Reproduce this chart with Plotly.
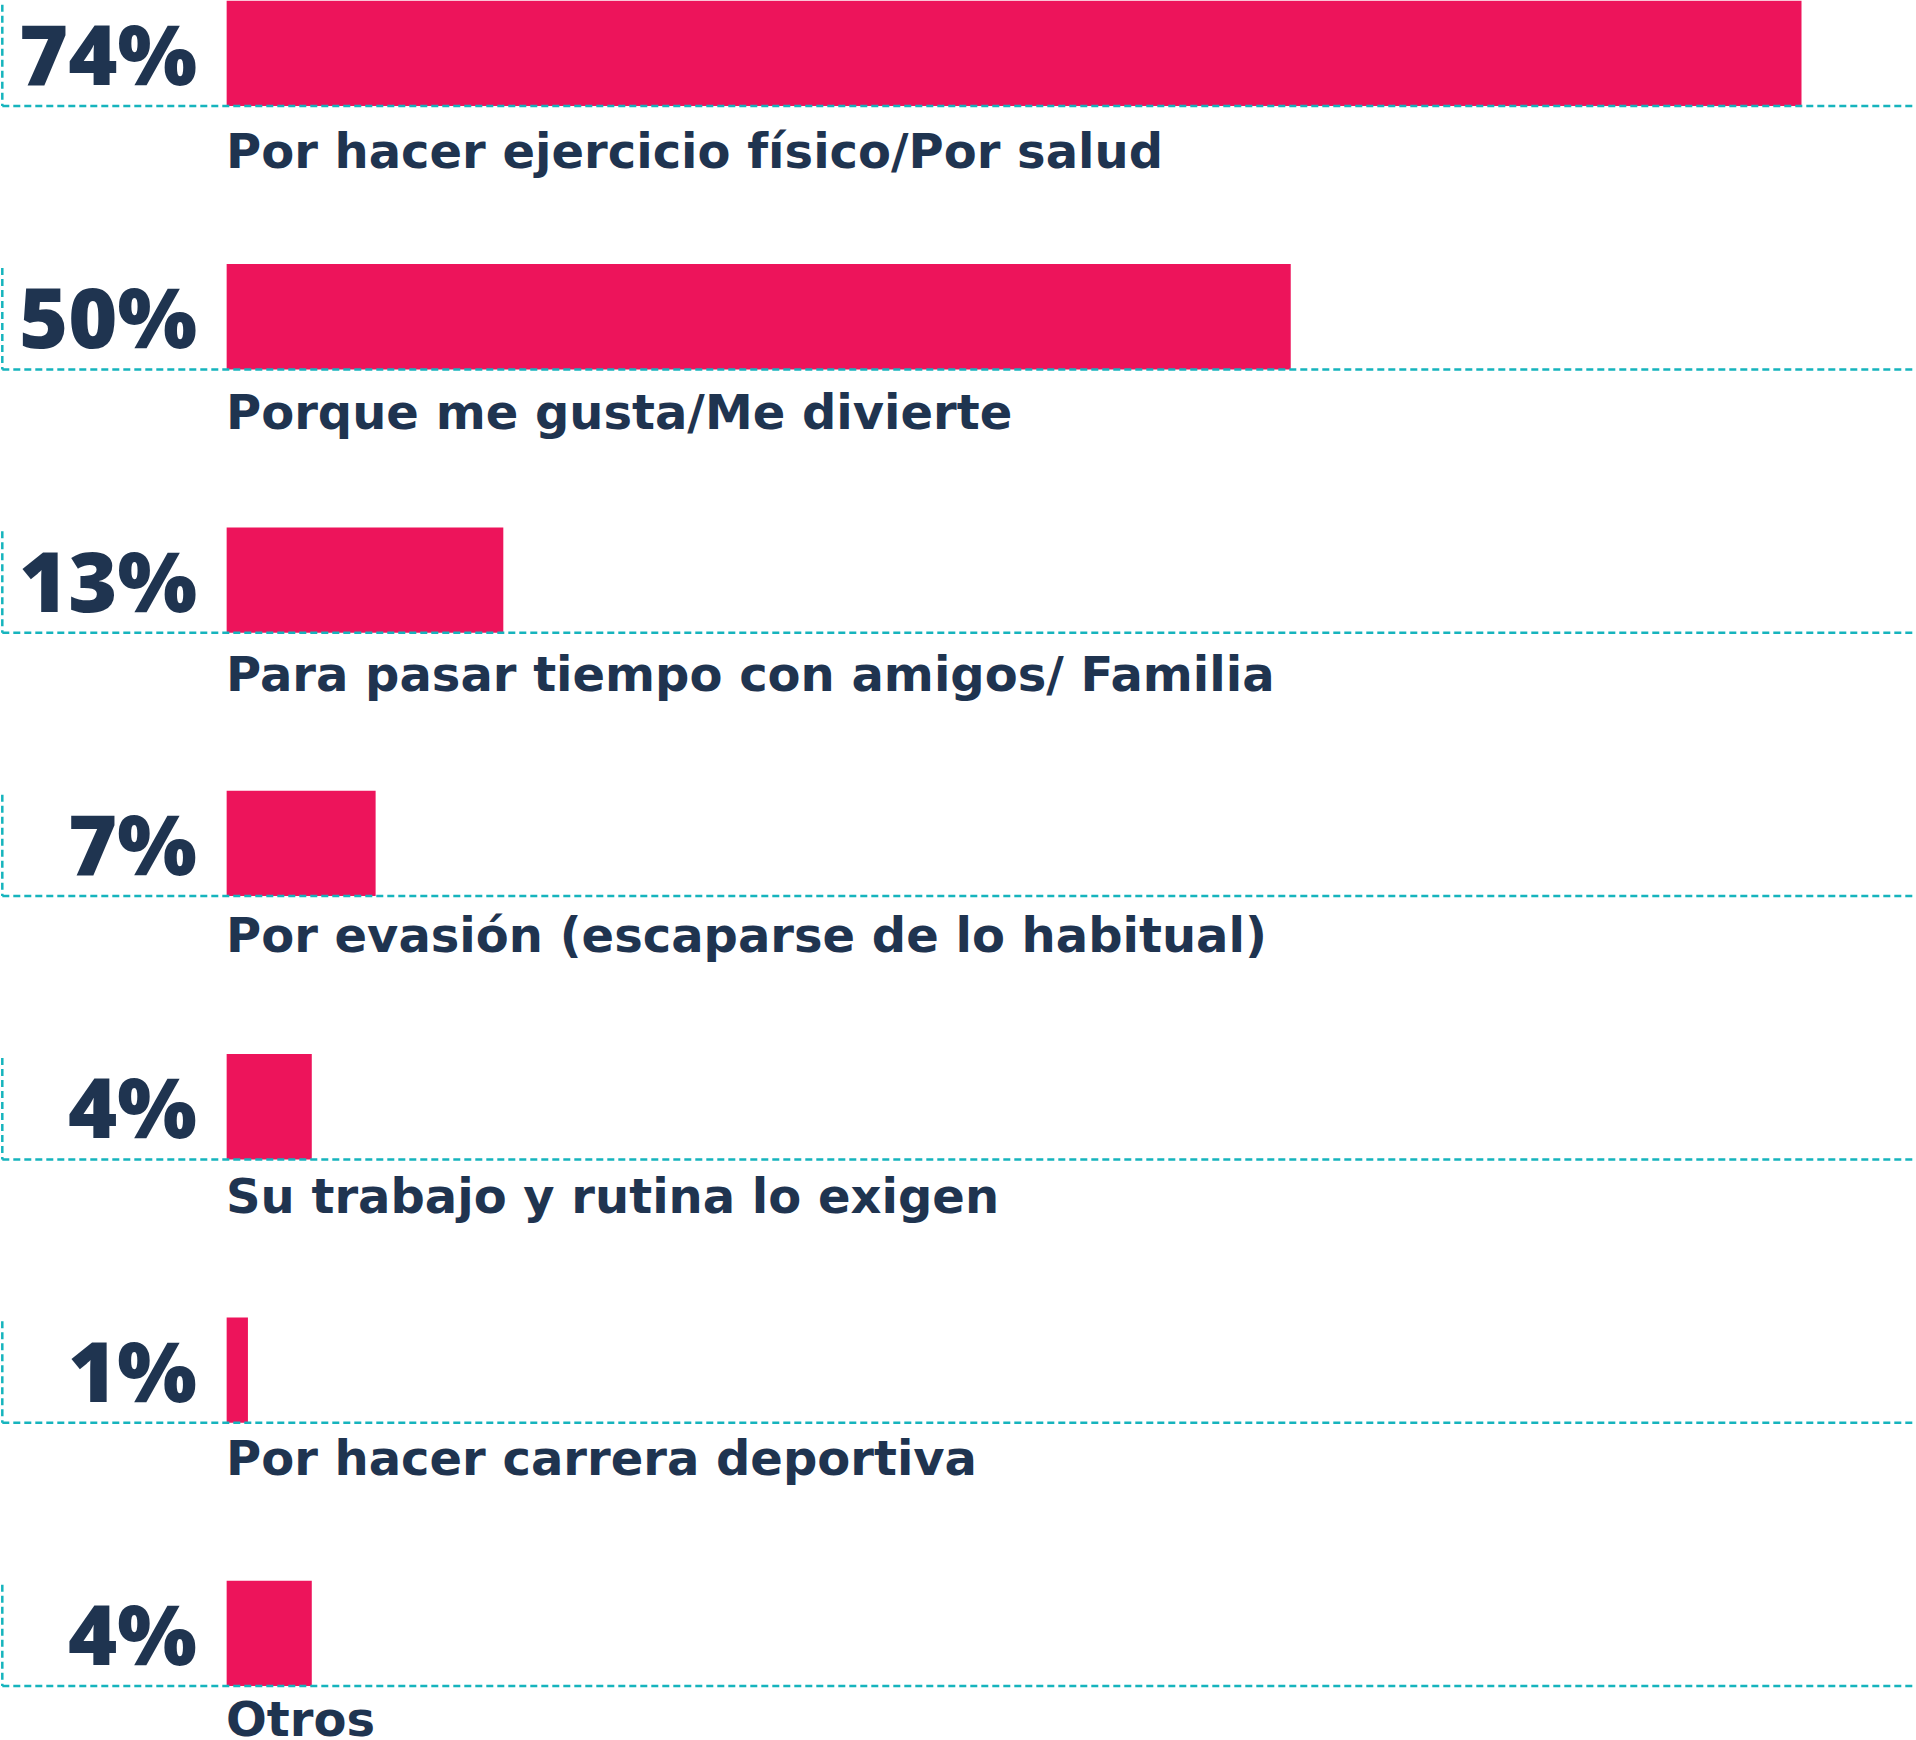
import plotly.graph_objects as go

# Datos
categorias = [
    "Por hacer ejercicio físico/Por salud",
    "Porque me gusta/Me divierte",
    "Para pasar tiempo con amigos/ Familia",
    "Por evasión (escaparse de lo habitual)",
    "Su trabajo y rutina lo exigen",
    "Por hacer carrera deportiva",
    "Otros",
]
porcentajes = [74, 50, 13, 7, 4, 1, 4]
etiquetas = ["74%", "50%", "13%", "7%", "4%", "1%", "4%"]

ROSA = "#ED145B"
NAVY = "#1F3450"
TEAL = "#16B4BD"
FUENTE_PCT = "Open Sans"
FUENTE_CAT = "DejaVu Sans"
ANCHO_BARRA = 0.4

filas = list(range(len(categorias)))

fig = go.Figure()
fig.add_trace(go.Bar(
    x=porcentajes, y=filas, orientation="h",
    width=ANCHO_BARRA, marker_color=ROSA, marker_line_width=0,
    hoverinfo="skip",
))

for i, (cat, lab) in enumerate(zip(categorias, etiquetas)):
    base = i + ANCHO_BARRA / 2
    # línea punteada horizontal bajo la barra
    fig.add_shape(type="line", xref="paper", yref="y",
                  x0=0.0012, x1=1, y0=base, y1=base,
                  line=dict(color=TEAL, width=2.5, dash="7px,4px"), layer="above")
    # tramo vertical a la izquierda
    fig.add_shape(type="line", xref="paper", yref="y",
                  x0=0.0012, x1=0.0012, y0=i - ANCHO_BARRA / 2 + 0.015, y1=base,
                  line=dict(color=TEAL, width=2.5, dash="7px,4px"))
    # porcentaje
    fig.add_annotation(x=0, y=i, xref="x", yref="y", text=lab,
                       xanchor="right", yanchor="middle", xshift=-28, yshift=1,
                       showarrow=False,
                       font=dict(family=FUENTE_PCT, size=84, color=NAVY, weight=800))
    # categoría (el texto se acerca un poco a la línea en cada fila)
    fig.add_annotation(x=0, y=base, xref="x", yref="y", text=cat,
                       xanchor="left", yanchor="top", xshift=-3, yshift=-(15 - 2 * i),
                       showarrow=False,
                       font=dict(family=FUENTE_CAT, size=48, color=NAVY, weight=700))

fig.update_xaxes(range=[-10.65, 79.38], visible=False, fixedrange=True)
fig.update_yaxes(range=[6.405, -0.203], visible=False, fixedrange=True)
fig.update_layout(
    width=1916, height=1740,
    margin=dict(l=0, r=0, t=0, b=0),
    plot_bgcolor="white", paper_bgcolor="white",
    showlegend=False,
)

# sin el margen por defecto de la página
fig.write_html("out.html", config={"displayModeBar": False},
               post_script="document.body.style.margin='0px';")
